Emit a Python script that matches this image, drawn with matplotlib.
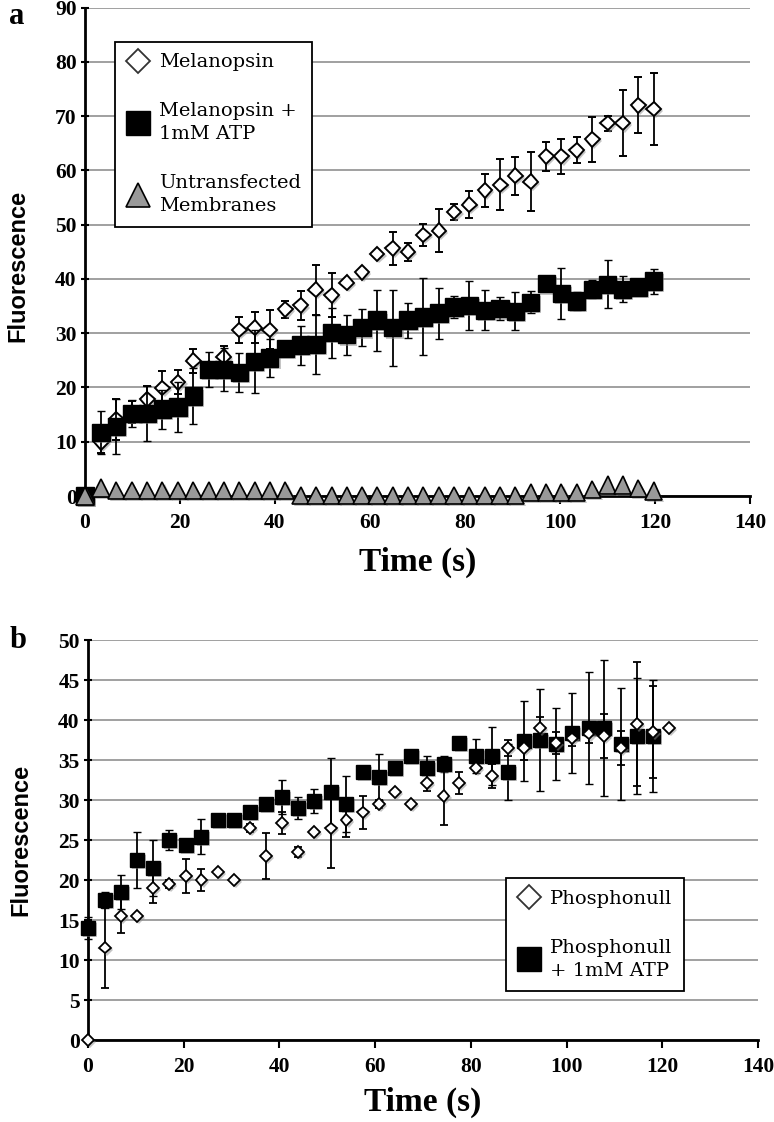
import numpy as np
import matplotlib
matplotlib.use("Agg")
import matplotlib.pyplot as plt
import matplotlib.lines as mlines
import matplotlib.patheffects as pe

plt.rcParams['font.family'] = ['Liberation Serif', 'DejaVu Serif']

# ---- panel a data ----
time_a = [0, 3.4, 6.6, 9.9, 13.1, 16.3, 19.6, 22.8, 26.0, 29.2, 32.5, 35.7, 38.9,
          42.2, 45.4, 48.6, 51.9, 55.1, 58.3, 61.5, 64.8, 68.0, 71.2, 74.5, 77.7,
          80.9, 84.2, 87.4, 90.6, 93.8, 97.1, 100.3, 103.5, 106.8, 110.0, 113.2,
          116.5, 119.7]
melanopsin = [0, 9.9, 14.1, 15.5, 17.8, 19.9, 20.95, 24.9, 23.5, 25.7, 30.6, 31.0,
              30.6, 34.4, 35.1, 38.0, 37.0, 39.3, 41.2, 44.6, 45.6, 45.0, 48.1, 48.9,
              52.3, 53.7, 56.3, 57.3, 59.0, 57.9, 62.6, 62.6, 63.7, 65.7, 68.7, 68.7,
              72.0, 71.3]
melanopsin_err = [0, 2, 3.7, 2, 2.4, 3.2, 2.2, 2.2, 1, 2, 2.4, 2.9, 3.6, 1.6, 2.6,
                  4.6, 4, 0.5, 0.5, 0.5, 3, 1.7, 2, 4, 1.5, 2.5, 3, 4.7, 3.5, 5.4,
                  2.7, 3.2, 2.4, 4.1, 1.4, 6.1, 5.2, 6.7]
melanopsin_atp = [0, 11.7, 12.8, 15.2, 15.2, 16.0, 16.4, 18.4, 23.3, 23.3, 22.8, 24.8,
                  25.4, 27.2, 27.8, 27.9, 30.1, 29.7, 31.0, 32.4, 31.0, 32.4, 33.0,
                  33.7, 34.8, 35.1, 34.2, 34.5, 34.0, 35.7, 39.1, 37.3, 35.9, 38.1,
                  39.0, 38.1, 38.5, 39.6]
melanopsin_atp_err = [0, 4, 5, 2.4, 5, 3.6, 4.6, 5.1, 3.2, 4, 3.6, 5.8, 3.5, 0.5, 3.6,
                      5.4, 4.6, 3.7, 3.4, 5.6, 7, 3.2, 7.1, 4.7, 2, 4.6, 3.7, 2.1, 3.5,
                      2, 0.5, 4.7, 1.6, 1.7, 4.4, 2.4, 0.5, 2.3]
untransfected = [0, 1.5, 1.0, 1.0, 1.0, 1.0, 1.0, 1.0, 1.0, 1.0, 1.0, 1.0, 1.0, 1.0,
                 0.1, 0.1, 0.1, 0.1, 0.1, 0.1, 0.1, 0.1, 0.1, 0.1, 0.1, 0.1, 0.1, 0.1,
                 0.1, 0.7, 0.7, 0.7, 0.7, 1.2, 2.0, 2.0, 1.4, 0.9]

# ---- panel b data ----
time_b = [0, 3.5, 6.9, 10.2, 13.6, 17.0, 20.4, 23.7, 27.1, 30.5, 33.8, 37.2, 40.6,
          43.9, 47.3, 50.7, 54.0, 57.4, 60.8, 64.2, 67.5, 70.9, 74.3, 77.6, 81.0,
          84.4, 87.7, 91.1, 94.5, 97.8, 101.2, 104.6, 107.9, 111.3, 114.7, 118.1,
          121.4]
phosphonull = [0.0, 11.55, 15.5, 15.5, 19.0, 19.5, 20.5, 20.0, 21.0, 20.0, 26.5, 23.0,
               27.1, 23.5, 26.0, 26.45, 27.5, 28.45, 29.5, 31.0, 29.5, 32.1, 30.5,
               32.1, 34.0, 33.0, 36.5, 36.5, 39.0, 37.1, 37.7, 38.3, 38.0, 36.5, 39.5,
               38.5, 39.0]
phosphonull_err = [0, 5, 2.1, 0, 1.9, 0.5, 2.1, 1.4, 0, 0, 0.5, 2.85, 1.4, 0.6, 0,
                   4.9, 2.1, 2.1, 0.5, 0, 0, 1, 3.6, 1.4, 0, 1.5, 1, 1.5, 1.4, 1.4,
                   1, 1.2, 2.8, 2.1, 7.8, 5.7, 0]
phosphonull_atp = [14.0, 17.5, 18.5, 22.5, 21.5, 25.0, 24.4, 25.4, 27.5, 27.5, 28.5,
                   29.5, 30.4, 29.0, 29.9, 31.0, 29.5, 33.5, 32.9, 34.0, 35.5, 34.0,
                   34.5, 37.1, 35.5, 35.5, 33.5, 37.4, 37.5, 37.0, 38.4, 39.0, 39.0,
                   37.0, 38.0, 38.0]
phosphonull_atp_err = [1.4, 1.0, 2.1, 3.5, 3.5, 1.3, 0, 2.2, 0, 0, 0, 0, 2.1, 1.4, 1.5,
                       4.3, 3.5, 0, 2.9, 0.5, 0, 1.5, 1.0, 0, 2.1, 3.6, 3.5, 5, 6.4,
                       4.5, 5, 7, 8.5, 7, 7.2, 7]

shadow = [pe.SimplePatchShadow(offset=(1.5, -1.5), shadow_rgbFace='0.55', alpha=0.5), pe.Normal()]

W, H = 774, 1122
fig = plt.figure(figsize=(W / 100, H / 100), dpi=100)


def px_axes(left, top, right, bottom):
    # axes rectangle from pixel edges (top-left origin)
    return fig.add_axes([left / W, 1 - bottom / H, (right - left) / W, (bottom - top) / H])


ax1 = px_axes(85, 7.5, 750, 496)
ax2 = px_axes(88, 640, 758, 1040)

ebkw = dict(ecolor='black', elinewidth=1.3, capsize=2.6, capthick=1.3,
            linestyle='none', clip_on=False)

# panel a
l1 = ax1.errorbar(time_a, melanopsin, yerr=melanopsin_err, fmt='D', ms=7.5,
                  mfc='white', mec='black', mew=1.4, zorder=3, **ebkw)
l2 = ax1.errorbar(time_a, melanopsin_atp, yerr=melanopsin_atp_err, fmt='s', ms=12.5,
                  mfc='black', mec='black', mew=1, zorder=4, **ebkw)
l3, = ax1.plot(time_a, untransfected, '^', ms=12.5, mfc='#999999', mec='black', mew=1.2,
               linestyle='none', zorder=5, clip_on=False)
for ln in (l1[0], l2[0], l3):
    ln.set_path_effects(shadow)

# panel b
l4 = ax2.errorbar(time_b[:len(phosphonull_atp)], phosphonull_atp, yerr=phosphonull_atp_err,
                  fmt='s', ms=10, mfc='black', mec='black', mew=1, zorder=3, **ebkw)
l5 = ax2.errorbar(time_b, phosphonull, yerr=phosphonull_err, fmt='D', ms=6,
                  mfc='white', mec='black', mew=1.3, zorder=4, **ebkw)
for ln in (l4[0], l5[0]):
    ln.set_path_effects(shadow)

for ax, ymax, ystep, ylab_y, xpad in ((ax1, 90, 10, 0.47, 10), (ax2, 50, 5, 0.5, 7)):
    ax.set_xlim(0, 140)
    ax.set_ylim(0, ymax)
    ax.set_xticks(np.arange(0, 141, 20))
    ax.set_yticks(np.arange(0, ymax + 1, ystep))
    ax.yaxis.grid(True, color='#a0a0a0', lw=1.4)
    ax.set_axisbelow(True)
    for s in ('top', 'right'):
        ax.spines[s].set_visible(False)
    ax.spines['left'].set_linewidth(2)
    ax.spines['bottom'].set_linewidth(2)
    ax.tick_params(axis='y', direction='inout', length=6, width=1.5, labelsize=15.5, pad=3)
    ax.tick_params(axis='x', direction='out', length=6, width=1.5, labelsize=15.5, pad=6)
    for lab in ax.get_xticklabels() + ax.get_yticklabels():
        lab.set_fontweight('bold')
    ax.set_xlabel('Time (s)', fontsize=24, fontweight='bold', labelpad=xpad)
    ax.set_ylabel('Fluorescence', fontsize=17, fontweight='bold',
                  family=['Liberation Sans', 'DejaVu Sans'])
    ax.yaxis.set_label_coords(-0.083, ylab_y)

# legends
leg_font = dict(family='DejaVu Serif', size=14)
h1 = mlines.Line2D([], [], marker='D', ms=12, mfc='white', mec='#333333', mew=1.3, ls='none')
h2 = mlines.Line2D([], [], marker='s', ms=17.5, mfc='black', mec='black', ls='none')
h3 = mlines.Line2D([], [], marker='^', ms=17.5, mfc='#999999', mec='black', mew=1.2, ls='none')
leg1 = ax1.legend([h1, h2, h3], ['Melanopsin', 'Melanopsin +\n1mM ATP', 'Untransfected\nMembranes'],
                  loc='upper left', bbox_to_anchor=(115 / W, 1 - 41.7 / H),
                  bbox_transform=fig.transFigure, borderaxespad=0, prop=leg_font,
                  frameon=True, fancybox=False, edgecolor='black', framealpha=1,
                  labelspacing=1.6, handletextpad=0.45, borderpad=0.6, handlelength=1.2)
leg1.get_frame().set_linewidth(1.3)

h4 = mlines.Line2D([], [], marker='D', ms=12, mfc='white', mec='#333333', mew=1.3, ls='none')
h5 = mlines.Line2D([], [], marker='s', ms=17.5, mfc='black', mec='black', ls='none')
leg2 = ax2.legend([h4, h5], ['Phosphonull', 'Phosphonull\n+ 1mM ATP'],
                  loc='upper left', bbox_to_anchor=(506 / W, 1 - 878 / H),
                  bbox_transform=fig.transFigure, borderaxespad=0, prop=leg_font,
                  frameon=True, fancybox=False, edgecolor='black', framealpha=1,
                  labelspacing=1.6, handletextpad=0.45, borderpad=0.6, handlelength=1.2)
leg2.get_frame().set_linewidth(1.3)
for leg in (leg1, leg2):
    for t in leg.get_texts():
        t.set_linespacing(1.35)

fig.text(0.012, 0.985, 'a', fontsize=22, fontweight='bold', va='center')
fig.text(0.012, 1 - 640 / H, 'b', fontsize=22, fontweight='bold', va='center')

fig.savefig('out.png', dpi=100)
